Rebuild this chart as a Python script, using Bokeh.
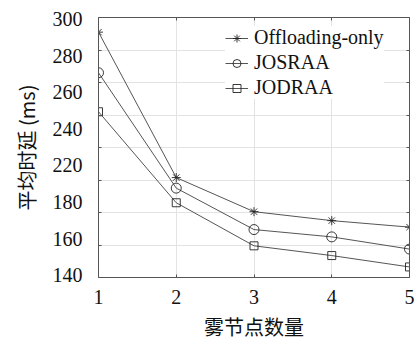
from bokeh.plotting import figure
from bokeh.models import Range1d, LinearAxis, FixedTicker, Legend, LegendItem
from bokeh.embed import file_html
from bokeh.resources import INLINE

# ---- data ----
nodes = [1, 2, 3, 4, 5]
offloading_only = [291, 201.5, 180.5, 175, 171]
josraa = [266, 195, 169.5, 165, 157.5]
jodraa = [242, 186, 159.5, 153.5, 146.5]
series_names = ["Offloading-only", "JOSRAA", "JODRAA"]
y_grid_values = [140, 160, 180, 200, 220, 240, 260, 280, 300]
y_tick_labels = ["140", "160", "180", "220", "240", "260", "280", "300"]
x_title = "雾节点数量"
y_title = "平均时延 (ms)"

SERIF = "Liberation Serif"
CJK = "Noto Sans CJK SC"
FRAME = "#555555"
GRID = "#e3e3e3"
LINE = "#555555"
MARK = "#222222"
TXT = "#111111"

p = figure(width=416, height=345, output_backend="svg", toolbar_location=None,
           x_range=Range1d(1, 5), y_range=Range1d(140, 300),
           min_border_left=98, min_border_right=7, min_border_top=17,
           min_border_bottom=68)
p.outline_line_color = None
p.background_fill_color = "white"
p.border_fill_color = "white"

# bottom axis (labels + inward ticks)
xa = p.xaxis[0]
xa.ticker = FixedTicker(ticks=nodes)
xa.major_tick_in = 3
xa.major_tick_out = 0
xa.minor_tick_line_color = None
xa.axis_line_color = FRAME
xa.major_tick_line_color = FRAME
xa.major_label_text_font = SERIF
xa.major_label_text_font_size = "20px"
xa.major_label_text_color = TXT
xa.major_label_standoff = 12
xa.axis_label = x_title
xa.axis_label_text_font = CJK
xa.axis_label_text_font_size = "20px"
xa.axis_label_text_font_style = "normal"
xa.axis_label_text_color = TXT
xa.axis_label_standoff = 5

# left frame axis (grid positions, inward ticks, no labels)
ya = p.yaxis[0]
ya.ticker = FixedTicker(ticks=y_grid_values)
ya.major_tick_in = 3
ya.major_tick_out = 0
ya.minor_tick_line_color = None
ya.axis_line_color = FRAME
ya.major_tick_line_color = FRAME
ya.major_label_text_font_size = "0px"
ya.major_label_text_color = None
ya.major_label_standoff = 0

p.xgrid.grid_line_color = GRID
p.ygrid.grid_line_color = GRID

# label axis on the left
p.extra_y_ranges = {"lab": Range1d(-0.063, 7.047)}
lab = LinearAxis(y_range_name="lab",
                 ticker=FixedTicker(ticks=list(range(len(y_tick_labels)))),
                 major_label_overrides={i: s for i, s in enumerate(y_tick_labels)},
                 axis_line_color=None, major_tick_line_color=None,
                 minor_tick_line_color=None, major_tick_in=0, major_tick_out=0,
                 major_label_standoff=16,
                 major_label_text_font=SERIF, major_label_text_font_size="20px",
                 major_label_text_color=TXT,
                 axis_label=y_title, axis_label_text_font=CJK,
                 axis_label_text_font_size="20px",
                 axis_label_text_font_style="normal",
                 axis_label_text_color=TXT, axis_label_standoff=9)
p.add_layout(lab, "left")

# top and right frame axes
top = LinearAxis(ticker=FixedTicker(ticks=nodes), major_tick_in=3, major_tick_out=0,
                 minor_tick_line_color=None, axis_line_color=FRAME,
                 major_tick_line_color=FRAME, major_label_text_font_size="0px",
                 major_label_text_color=None, major_label_standoff=0)
p.add_layout(top, "above")
right = LinearAxis(ticker=FixedTicker(ticks=y_grid_values), major_tick_in=3,
                   major_tick_out=0, minor_tick_line_color=None,
                   axis_line_color=FRAME, major_tick_line_color=FRAME,
                   major_label_text_font_size="0px", major_label_text_color=None,
                   major_label_standoff=0)
p.add_layout(right, "right")

items = []
for name, vals, marker, size in zip(series_names,
                                    [offloading_only, josraa, jodraa],
                                    ["asterisk", "circle", "square"],
                                    [9, 10, 8]):
    ln = p.line(nodes, vals, line_color=LINE, line_width=1)
    sc = p.scatter(nodes, vals, marker=marker, size=size, line_color=MARK,
                   fill_color=None, line_width=0.9)
    items.append(LegendItem(label=name, renderers=[ln, sc]))

legend = Legend(items=items, location=(127, 178), padding=2, margin=0,
                spacing=2, glyph_width=23, glyph_height=20, label_height=20,
                label_standoff=6, border_line_color=None,
                background_fill_color="white", background_fill_alpha=1,
                label_text_font=SERIF, label_text_font_size="20px",
                label_text_color=TXT)
p.add_layout(legend, "center")

open("out.html", "w").write(file_html(p, INLINE))
